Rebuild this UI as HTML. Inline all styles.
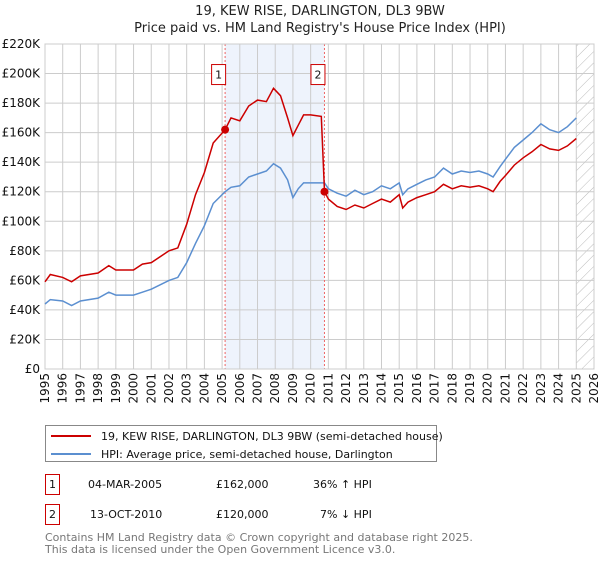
<!DOCTYPE html>
<html><head><meta charset="utf-8"><style>
body{margin:0;background:#fff;font-family:"Liberation Sans","DejaVu Sans",sans-serif;}
svg text{font-family:"DejaVu Sans","Liberation Sans",sans-serif;}
</style></head><body>
<svg id="c" width="600" height="560" xmlns="http://www.w3.org/2000/svg">
<defs><pattern id="h" width="8" height="8" patternUnits="userSpaceOnUse" patternTransform="rotate(45)"><line x1="0" y1="0" x2="0" y2="8" stroke="#bbb" stroke-width="1"/></pattern></defs>
<text x="320" y="15" text-anchor="middle" font-size="13" fill="#222">19, KEW RISE, DARLINGTON, DL3 9BW</text>
<text x="320" y="32" text-anchor="middle" font-size="13" fill="#222">Price paid vs. HM Land Registry's House Price Index (HPI)</text>
<g id="grid"></g><g id="marks"></g>
<g>
<rect x="45.5" y="425.5" width="391" height="36" fill="#fff" stroke="#888"/>
<line x1="51" y1="436" x2="91" y2="436" stroke="#cc0000" stroke-width="2"/>
<text x="101" y="440" font-size="11" fill="#111">19, KEW RISE, DARLINGTON, DL3 9BW (semi-detached house)</text>
<line x1="51" y1="454" x2="91" y2="454" stroke="#5b8fd0" stroke-width="2"/>
<text x="101" y="458" font-size="11" fill="#111">HPI: Average price, semi-detached house, Darlington</text>
</g>
<g font-size="11" fill="#111">
<rect x="45.5" y="474.5" width="14" height="20" fill="#fff" stroke="#cc0000"/><text x="52.5" y="488" text-anchor="middle">1</text>
<text x="88" y="488">04-MAR-2005</text><text x="216" y="488">£162,000</text><text x="313" y="488">36% ↑ HPI</text>
<rect x="45.5" y="504.5" width="14" height="20" fill="#fff" stroke="#cc0000"/><text x="52.5" y="518" text-anchor="middle">2</text>
<text x="90" y="518">13-OCT-2010</text><text x="216" y="518">£120,000</text><text x="320" y="518">7% ↓ HPI</text>
</g>
<text x="45" y="541" font-size="11" fill="#777">Contains HM Land Registry data © Crown copyright and database right 2025.</text>
<text x="45" y="553" font-size="11" fill="#777">This data is licensed under the Open Government Licence v3.0.</text>
</svg>
<script>
const yTicks=[0,20,40,60,80,100,120,140,160,180,200,220];
const years=[1995,1996,1997,1998,1999,2000,2001,2002,2003,2004,2005,2006,2007,2008,2009,2010,2011,2012,2013,2014,2015,2016,2017,2018,2019,2020,2021,2022,2023,2024,2025,2026];
const propT=[1995,1995.3,1996,1996.5,1997,1998,1998.6,1999,2000,2000.5,2001,2002,2002.5,2003,2003.5,2004,2004.5,2005.17,2005.5,2006,2006.5,2007,2007.5,2007.9,2008.3,2008.7,2009,2009.3,2009.6,2010,2010.6,2010.78,2011,2011.5,2012,2012.5,2013,2013.5,2014,2014.5,2015,2015.2,2015.5,2016,2016.5,2017,2017.5,2018,2018.5,2019,2019.5,2020,2020.3,2020.7,2021,2021.5,2022,2022.5,2023,2023.5,2024,2024.5,2025];
const propV=[59,64,62,59,63,65,70,67,67,71,72,80,82,98,118,133,153,162,170,168,178,182,181,190,185,170,158,165,172,172,171,120,115,110,108,111,109,112,115,113,118,109,113,116,118,120,125,122,124,123,124,122,120,127,131,138,143,147,152,149,148,151,156];
const hpiV=[44,47,46,43,46,48,52,50,50,52,54,60,62,72,85,97,112,120,123,124,130,132,134,139,136,128,116,122,126,126,126,126,122,119,117,121,118,120,124,122,126,118,122,125,128,130,136,132,134,133,134,132,130,137,142,150,155,160,166,162,160,164,170];
const sales=[[2005.17,162],[2010.78,120]];
const X0=45,X1=594,Y0=369,Y1=44;
const x=t=>X0+(t-1995)/(2026-1995)*(X1-X0);
const y=v=>Y0-v/220*(Y0-Y1);
const NS="http://www.w3.org/2000/svg";
function mk(tag,attrs,parent){const e=document.createElementNS(NS,tag);for(const k in attrs)e.setAttribute(k,attrs[k]);parent.appendChild(e);return e;}
const g=document.getElementById('grid'),m=document.getElementById('marks');
let r=mk('rect',{x:x(2005.17),y:Y1,width:x(2010.78)-x(2005.17),height:Y0-Y1,fill:'#eef3fc'},g);


r=mk('rect',{x:x(2025.0),y:Y1,width:X1-x(2025.0),height:Y0-Y1,fill:'url(#h)'},g);


yTicks.forEach(v=>{mk('line',{x1:X0,x2:X1,y1:y(v),y2:y(v),stroke:'#ccc'},g);
const t=mk('text',{x:X0-5,y:y(v)+4,'text-anchor':'end','font-size':12,fill:'#111'},g);t.textContent='£'+v+(v?'K':'');

});
years.forEach(yr=>{mk('line',{x1:x(yr),x2:x(yr),y1:Y1,y2:Y0,stroke:'#ccc'},g);
const t=mk('text',{transform:`translate(${x(yr)+4},${Y0+4}) rotate(-90)`,'text-anchor':'end','font-size':12,fill:'#111'},g);t.textContent=yr;

});
sales.forEach((s,i)=>{mk('line',{x1:x(s[0]),x2:x(s[0]),y1:Y1,y2:Y0,stroke:'#e66','stroke-dasharray':'2,2'},g);
const b=mk('rect',{x:x(s[0])-13.5,y:y(200)-9,width:14,height:20,fill:'#fff',stroke:'#cc0000'},m);


const t=mk('text',{x:x(s[0])-6.5,y:y(200)+5,'text-anchor':'middle','font-size':11,fill:'#111'},m);t.textContent=i+1;});
const path=(vals)=>propT.map((t,i)=>(i?'L':'M')+x(t).toFixed(1)+','+y(vals[i]).toFixed(1)).join('');
let p=mk('path',{d:path(hpiV),fill:'none',stroke:'#5b8fd0','stroke-width':1.5},m);


p=mk('path',{d:path(propV),fill:'none',stroke:'#cc0000','stroke-width':1.5},m);


sales.forEach(s=>{const d=mk('circle',{cx:x(s[0]),cy:y(s[1]),r:4,fill:'#cc0000'},m);

});
mk('rect',{x:X0,y:Y1,width:X1-X0,height:Y0-Y1,fill:'none',stroke:'#ccc'},g);
</script>
</body></html>
